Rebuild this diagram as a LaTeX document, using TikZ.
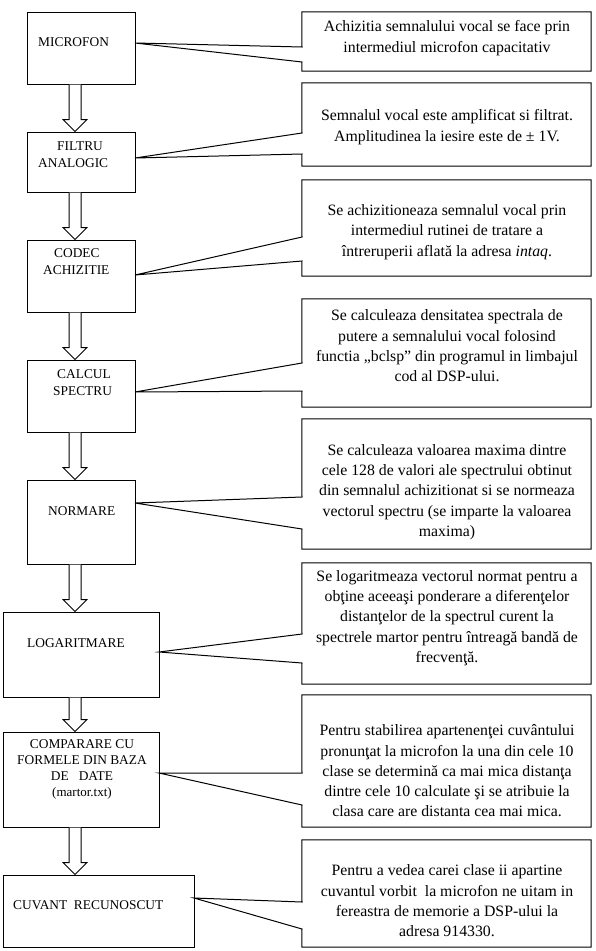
\documentclass[tikz,border=0pt]{standalone}
\usepackage{fontspec}
\setmainfont{Liberation Serif}
\newfontfamily\tnr{Liberation Serif}
\usetikzlibrary{calc}
\newcommand\hollowar[2]{\draw[hollowarrow] let \p1=(#1.south), \p2=(#2.north) in
  (69pt,\y1) -- (69pt,\y2+12pt) -- (63pt,\y2+12pt) -- (75pt,\y2) -- (87pt,\y2+12pt) -- (81pt,\y2+12pt) -- (81pt,\y1);}
\newcommand\callout[4]{\draw[calline] (#2) -- (#1.north west) -- (#1.north east) -- (#1.south east) -- (#1.south west) -- (#3) -- (#4) -- cycle;}
\begin{document}
\begin{tikzpicture}[x=1pt,y=-1pt,
  lbox/.style={draw=none,rectangle,inner sep=0pt},
  rbox/.style={draw=none,rectangle,inner sep=0pt,minimum width=289pt},
  ltext/.style={inner sep=0pt,font=\tnr\fontsize{13.4}{17}\selectfont},
  rtext/.style={inner sep=0pt,align=center,font=\tnr\fontsize{15.8}{20.3}\selectfont},
  boxline/.style={draw=black,line width=1pt},
  calline/.style={draw=black,line width=1pt,line join=miter},
  hollowarrow/.style={draw=black,fill=white,line width=1pt,line join=miter}]
\useasboundingbox (0,0) rectangle (595,951);
% left boxes
\node[lbox,boxline,minimum width=108pt,minimum height=72pt] (lb1) at (81,48) {};
\node[lbox,boxline,minimum width=108pt,minimum height=60pt] (lb2) at (81,162) {};
\node[lbox,boxline,minimum width=108pt,minimum height=72pt] (lb3) at (81,276) {};
\node[lbox,boxline,minimum width=108pt,minimum height=72pt] (lb4) at (81,396) {};
\node[lbox,boxline,minimum width=108pt,minimum height=84pt] (lb5) at (81,522) {};
\node[lbox,boxline,minimum width=156pt,minimum height=85pt] (lb6) at (81,654.5) {};
\node[lbox,boxline,minimum width=156pt,minimum height=95pt] (lb7) at (81,779.5) {};
\node[lbox,boxline,minimum width=191pt,minimum height=72pt] (lb8) at (98.5,911) {};
% left texts
\node[ltext,anchor=west] (lt1) at (38,42) {MICROFON};
\node[ltext,anchor=west,align=left] (lt2) at (38,154.5) {\hspace{19pt}FILTRU\\ANALOGIC};
\node[ltext,anchor=west,align=left] (lt3) at (43,262) {\hspace{11pt}CODEC\\ACHIZITIE};
\node[ltext,anchor=west,align=left] (lt4) at (53,382.5) {\hspace{4pt}CALCUL\\SPECTRU};
\node[ltext,anchor=west] (lt5) at (48,511) {NORMARE};
\node[ltext,anchor=west] (lt6) at (27,643) {LOGARITMARE};
\node[ltext,align=center,font=\tnr\fontsize{13.4}{16}\selectfont] (lt7) at (82,769) {COMPARARE CU\\FORMELE DIN BAZA\\DE\ \ \ DATE\\{\fontsize{13}{16}\selectfont(martor.txt)}};
\node[ltext,anchor=west] (lt8) at (13,905) {CUVANT\ \ RECUNOSCUT};
% hollow arrows
\hollowar{lb1}{lb2}
\hollowar{lb2}{lb3}
\hollowar{lb3}{lb4}
\hollowar{lb4}{lb5}
\hollowar{lb5}{lb6}
\hollowar{lb6}{lb7}
\hollowar{lb7}{lb8}
% right boxes
\node[rbox,minimum height=59pt] (rb1) at (446.5,41.5) {};
\node[rbox,minimum height=83pt] (rb2) at (446.5,124.5) {};
\node[rbox,minimum height=96pt] (rb3) at (446.5,228) {};
\node[rbox,minimum height=108pt] (rb4) at (446.5,353) {};
\node[rbox,minimum height=130pt] (rb5) at (446.5,484) {};
\node[rbox,minimum height=121pt] (rb6) at (446.5,623.5) {};
\node[rbox,minimum height=132pt] (rb7) at (446.5,761) {};
\node[rbox,minimum height=107pt] (rb8) at (446.5,893.5) {};
% callout coordinates
\coordinate (w1) at (135,43);  \coordinate (u1) at (302,47);  \coordinate (d1) at (302,62);
\coordinate (w2) at (135,158); \coordinate (u2) at (302,133); \coordinate (d2) at (302,154);
\coordinate (w3) at (135,275); \coordinate (u3) at (302,237); \coordinate (d3) at (302,261);
\coordinate (w4) at (135,392); \coordinate (u4) at (302,363); \coordinate (d4) at (302,391);
\coordinate (w5) at (135,503); \coordinate (u5) at (302,497); \coordinate (d5) at (302,529);
\coordinate (w6) at (159,652); \coordinate (u6) at (302,634); \coordinate (d6) at (302,663);
\coordinate (w7) at (159,773); \coordinate (u7) at (302,773); \coordinate (d7) at (302,805);
\coordinate (w8) at (194,898); \coordinate (u8) at (302,902); \coordinate (d8) at (302,929);
\callout{rb1}{u1}{d1}{w1}
\callout{rb2}{u2}{d2}{w2}
\callout{rb3}{u3}{d3}{w3}
\callout{rb4}{u4}{d4}{w4}
\callout{rb5}{u5}{d5}{w5}
\callout{rb6}{u6}{d6}{w6}
\callout{rb7}{u7}{d7}{w7}
\callout{rb8}{u8}{d8}{w8}
% right texts
\node[rtext] (rt1) at (447,38) {Achizitia semnalului vocal se face prin\\intermediul microfon capacitativ};
\node[rtext] (rt2) at (447,127) {Semnalul vocal este amplificat si filtrat.\\Amplitudinea la iesire este de ± 1V.};
\node[rtext] (rt3) at (447,232) {Se achizitioneaza semnalul vocal prin\\intermediul rutinei de tratare a\\întreruperii aflată la adresa \textit{intaq}.};
\node[rtext] (rt4) at (447,346) {Se calculeaza densitatea spectrala de\\putere a semnalului vocal folosind\\functia „bclsp” din programul in limbajul\\cod al DSP-ului.};
\node[rtext] (rt5) at (447,492) {Se calculeaza valoarea maxima dintre\\cele 128 de valori ale spectrului obtinut\\din semnalul achizitionat si se normeaza\\vectorul spectru (se imparte la valoarea\\maxima)};
\node[rtext] (rt6) at (447,618) {Se logaritmeaza vectorul normat pentru a\\obţine aceeaşi ponderare a diferenţelor\\distanţelor de la spectrul curent la\\spectrele martor pentru întreagă bandă de\\frecvenţă.};
\node[rtext] (rt7) at (447,771) {Pentru stabilirea apartenenţei cuvântului\\pronunţat la microfon la una din cele 10\\clase se determină ca mai mica distanţa\\dintre cele 10 calculate şi se atribuie la\\clasa care are distanta cea mai mica.};
\node[rtext] (rt8) at (447,901) {Pentru a vedea carei clase ii apartine\\cuvantul vorbit\ \ la microfon ne uitam in\\fereastra de memorie a DSP-ului la\\adresa 914330.};
\end{tikzpicture}
\end{document}
